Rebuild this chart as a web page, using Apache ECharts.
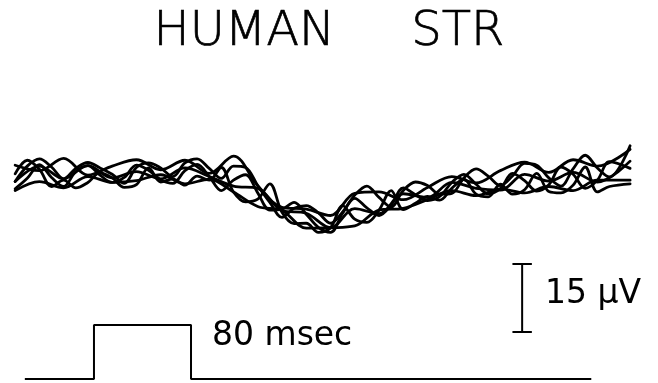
<!DOCTYPE html>
<html>
<head>
<meta charset="utf-8">
<script src="https://cdn.jsdelivr.net/npm/echarts@6/dist/echarts.min.js"></script>
<style>
  html, body { margin: 0; padding: 0; background: #fff; }
  #chart { width: 658px; height: 383px; }
</style>
</head>
<body>
<div id="chart"></div>
<script>
// Sample times (msec, stimulus onset at 0): fine and coarse sweeps
const timesFine = [-65, -55, -45, -35, -25, -15, -5, 5, 15, 25, 35, 45, 55, 65, 75, 85, 95, 105,
  115, 125, 135, 145, 155, 165, 175, 185, 195, 205, 215, 225, 235, 245, 255, 265, 275, 285,
  295, 305, 315, 325, 335, 345, 355, 365, 375, 385, 395, 405, 415, 425, 442];
const timesCoarse = [-65, -45, -25, -5, 15, 35, 55, 75, 95, 115, 135, 155, 175, 195, 215, 235,
  255, 275, 295, 315, 335, 355, 375, 395, 415, 442];

// Superimposed sweeps (μV)
const sweepA = [2.6, 1.4, 4.1, 0.4, 2.4, 3.8, 1.6, 3.7, 0.8, 4.6, -1.9, -6.7, -7.1, -8.5, -3.6, -3.3,
  -5.0, -2.3, 0.1, -1.3, 1.4, 3.3, 1.0, 3.8, 2.4, 6.1];
const sweepB = [-1.0, 2.4, 4.0, 2.2, -0.4, 1.9, 3.2, 2.0, 0.6, -1.4, 2.1, 3.1, 2.0, 0.1, 3.1, 4.0, 1.9, -0.3,
  2.4, 2.1, -1.9, -5.6, -8.9, -6.9, -6.3, -7.9, -10.2, -7.7, -4.0, -2.0, -4.5, -6.6, -3.0, -1.1, -1.9, -3.8,
  -3.6, -0.2, 1.8, 0.2, -1.9, 0.2, 3.0, 2.6, -0.2, -2.0, 1.8, 4.8, 2.0, 0.0, 6.9];
const sweepC = [-1.0, 2.4, -0.4, 2.5, -0.2, 1.2, -0.4, 2.0, 0.1, -2.0, -2.5, -7.4, -8.0, -11.2, -7.0, -8.1,
  -3.7, -4.5, -1.2, -2.5, -2.9, 0.6, -0.9, 1.0, -1.1, 3.5];
const sweepD = [-2.6, -0.3, 2.7, -0.1, -2.1, 1.2, 2.5, 0.4, -1.2, -0.1, 2.6, 1.5, -0.6, -1.4, 1.4, 2.8, 0.1, -3.0,
  -0.7, 0.5, -3.5, -7.3, -7.1, -5.6, -8.2, -11.1, -12.2, -8.0, -4.7, -6.8, -8.5, -6.2, -2.4, -3.9, -5.2, -4.3,
  -1.2, 0.6, -1.6, -3.7, -2.6, 0.8, -0.8, -3.1, -1.7, 2.2, 0.6, -2.5, -0.7, 3.4, 1.9];
const sweepE = [-3.0, -1.0, -2.4, 0.1, -1.2, -0.8, 0.5, -1.5, -0.5, -3.3, -6.5, -7.4, -11.3, -11.2, -10.8, -7.3,
  -6.9, -5.0, -3.0, -4.1, -2.6, -3.5, -2.1, -3.0, -0.7, -0.7];
const sweepF = [0.7, 3.7, 1.7, -2.1, -0.7, -2.4, -1.2, 0.9, -0.2, -2.3, -1.7, 2.0, -1.1, -0.4, -1.8, 0.2, -0.7, 2.1,
  -3.3, -5.5, -4.9, -1.5, -7.8, -10.3, -10.2, -12.2, -11.2, -6.3, -9.3, -10.0, -7.3, -3.0, -7.2, -5.8, -4.3, -5.1,
  -2.5, -0.5, -3.8, -4.4, -1.6, -3.8, -2.8, 0.8, -3.2, -3.5, -1.8, 2.2, -3.3, -2.1, -1.5];

const sweeps = [
  { t: timesCoarse, v: sweepA },
  { t: timesFine, v: sweepB },
  { t: timesCoarse, v: sweepC },
  { t: timesFine, v: sweepD },
  { t: timesCoarse, v: sweepE },
  { t: timesFine, v: sweepF }
];

// Stimulus pulse: time (msec) and level (0 = off, 1 = on)
const stimTimes = [-57, 0, 0, 80, 80, 410];
const stimLevels = [0, 0, 1, 1, 0, 0];

// Calibration bar: 15 μV placed at t = 353 msec
const calTime = 353;
const calCapHalf = 8;
const calBottom = -34.2;
const calLength = 15;

const titleText = 'HUMAN     STR';
const pulseLabel = '80 msec';
const calLabel = '15 μV';

const chart = echarts.init(document.getElementById('chart'), null, { renderer: 'canvas' });

const hiddenX = (gridIndex) => ({
  type: 'value', gridIndex, min: -75, max: 465, show: false
});

const sweepSeries = sweeps.map((s, k) => ({
  type: 'line',
  name: 'sweep' + (k + 1),
  xAxisIndex: 0, yAxisIndex: 0,
  data: s.t.map((t, i) => [t, s.v[i]]),
  showSymbol: false,
  smooth: 0.35,
  lineStyle: { color: '#000', width: 2.8, cap: 'round', join: 'round' },
  silent: true
}));

const calTop = calBottom + calLength;
const calSeries = {
  type: 'line',
  name: 'calibration',
  xAxisIndex: 0, yAxisIndex: 0,
  data: [
    [calTime - calCapHalf, calBottom], [calTime + calCapHalf, calBottom],
    [calTime, calBottom], [calTime, calTop],
    [calTime - calCapHalf, calTop], [calTime + calCapHalf, calTop]
  ],
  showSymbol: false,
  lineStyle: { color: '#000', width: 2 },
  silent: true
};

const stimSeries = {
  type: 'line',
  name: 'stimulus',
  xAxisIndex: 1, yAxisIndex: 1,
  data: stimTimes.map((t, i) => [t, stimLevels[i]]),
  showSymbol: false,
  lineStyle: { color: '#000', width: 2 },
  silent: true
};

chart.setOption({
  animation: false,
  backgroundColor: '#fff',
  title: {
    text: titleText,
    left: 'center',
    top: 4,
    textStyle: {
      fontFamily: 'DejaVu Sans',
      fontWeight: 200,
      fontSize: 48,
      color: '#000',
      textBorderColor: '#000',
      textBorderWidth: 0.7
    }
  },
  grid: [
    { left: 3, width: 655, top: 0, height: 383 },
    { left: 3, width: 655, top: 325, height: 54 }
  ],
  xAxis: [hiddenX(0), hiddenX(1)],
  yAxis: [
    { type: 'value', gridIndex: 0, min: -45.45, max: 39.05, show: false },
    { type: 'value', gridIndex: 1, min: 0, max: 1, show: false }
  ],
  series: [...sweepSeries, calSeries, stimSeries],
  graphic: [
    {
      type: 'text', x: 212, y: 336,
      style: {
        text: pulseLabel, fill: '#000',
        font: '33px "DejaVu Sans"', verticalAlign: 'middle', align: 'left'
      }
    },
    {
      type: 'text', x: 545, y: 294,
      style: {
        text: calLabel, fill: '#000',
        font: '33px "DejaVu Sans"', verticalAlign: 'middle', align: 'left'
      }
    }
  ]
});
</script>
</body>
</html>
